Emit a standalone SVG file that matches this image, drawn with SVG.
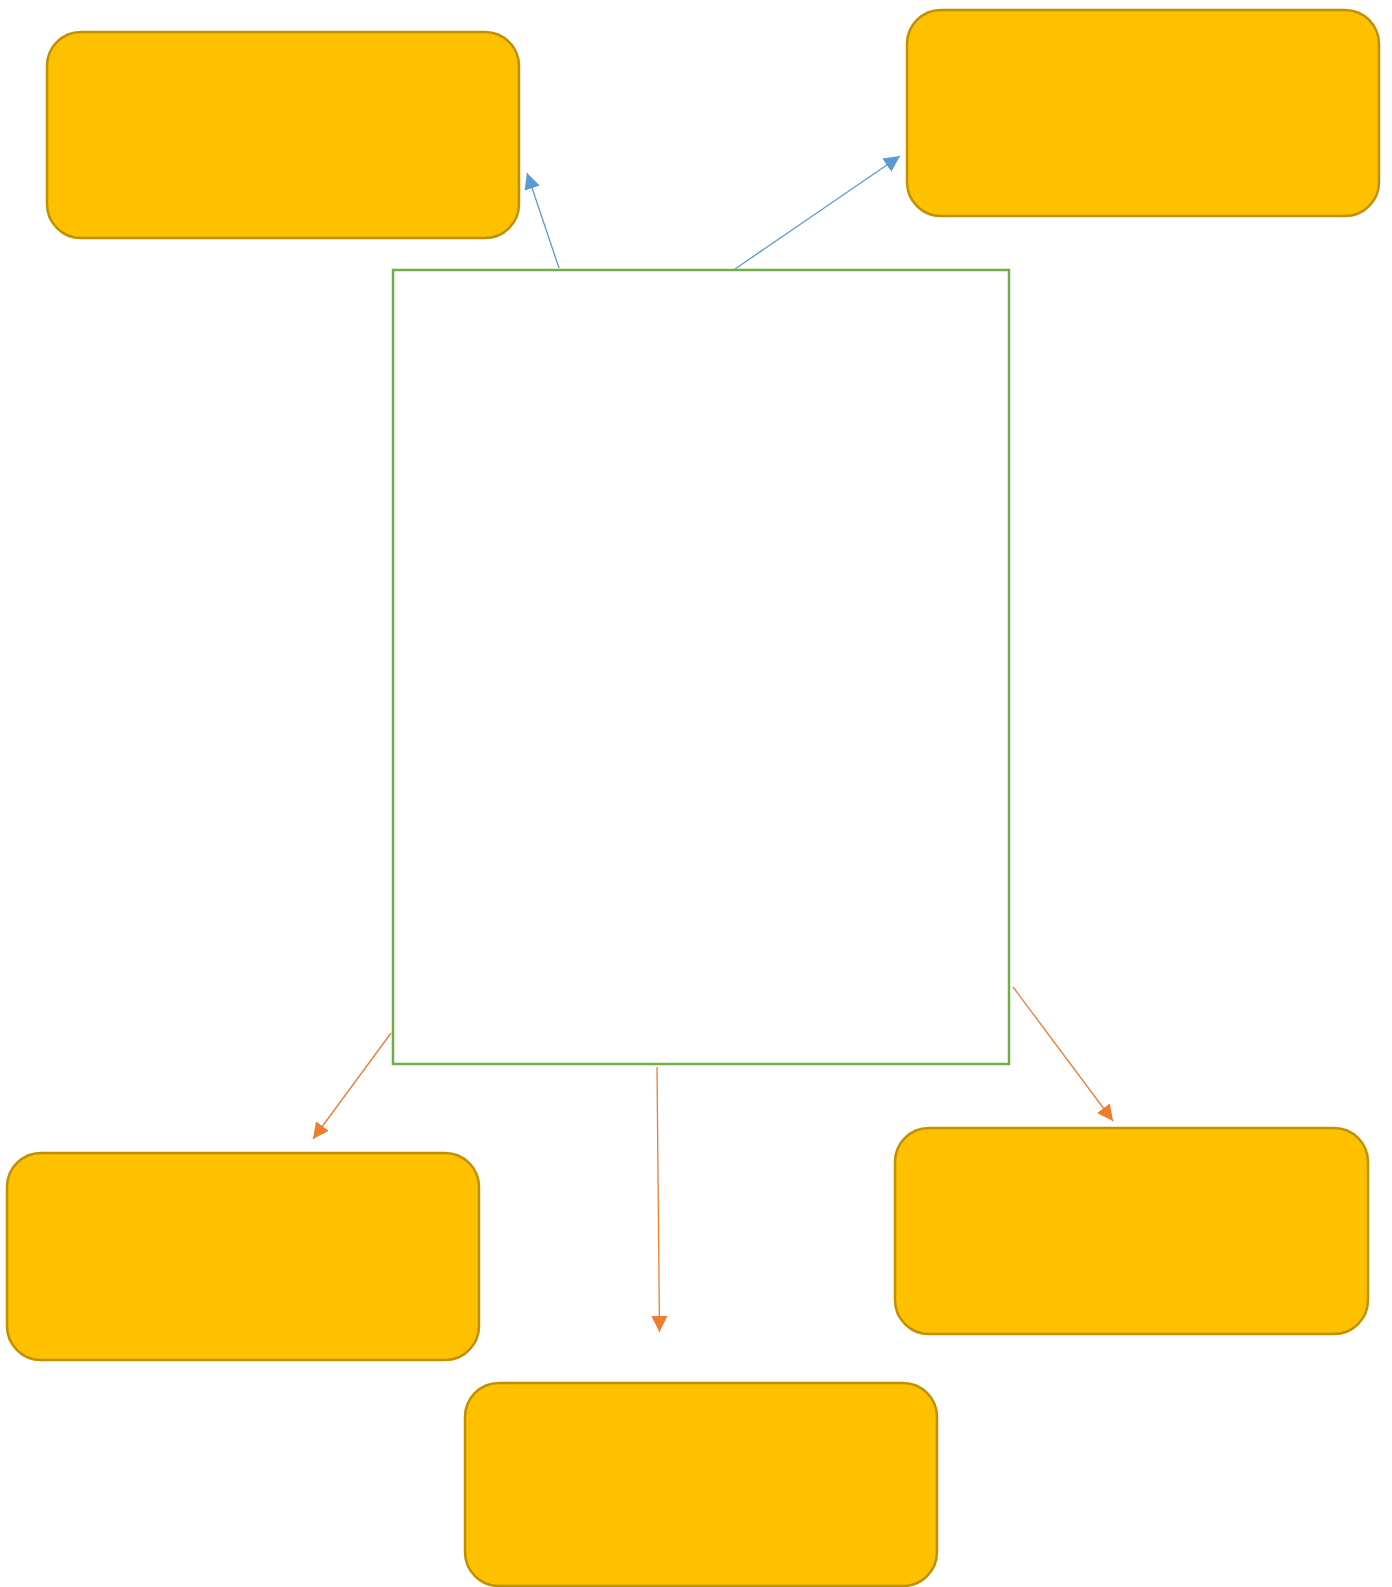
<svg xmlns="http://www.w3.org/2000/svg" width="1392" height="1587" viewBox="0 0 1392 1587">
<style>
.box{fill:#FFC000;stroke:#BF9000;stroke-width:2.5}
.main{fill:#FFFFFF;stroke:#70AD47;stroke-width:2.5}
.blue{stroke:#5B9BD5;stroke-width:1.3;fill:none}
.orange{stroke:#ED7D31;stroke-width:1.3;fill:none}
</style>
<defs>
<marker id="ab" viewBox="0 0 16 16" refX="16" refY="8" markerWidth="16" markerHeight="16" markerUnits="userSpaceOnUse" orient="auto"><path d="M0,0 L16,8 L0,16 z" fill="#5B9BD5"/></marker>
<marker id="ao" viewBox="0 0 16 16" refX="16" refY="8" markerWidth="16" markerHeight="16" markerUnits="userSpaceOnUse" orient="auto"><path d="M0,0 L16,8 L0,16 z" fill="#ED7D31"/></marker>
</defs>
<rect width="1392" height="1587" fill="#FFFFFF"/>
<g id="connectors">
<line class="blue" x1="559" y1="268" x2="527" y2="173" marker-end="url(#ab)"/>
<line class="blue" x1="735" y1="269" x2="900" y2="156" marker-end="url(#ab)"/>
<line class="orange" x1="391" y1="1033" x2="313" y2="1139" marker-end="url(#ao)"/>
<line class="orange" x1="657" y1="1067" x2="659.5" y2="1332" marker-end="url(#ao)"/>
<line class="orange" x1="1013" y1="987" x2="1113" y2="1121" marker-end="url(#ao)"/>
</g>
<g id="node-center"><rect class="main" x="393" y="270" width="616" height="794"/></g>
<g id="node-top-left"><rect class="box" x="47" y="32" width="472" height="206" rx="34"/></g>
<g id="node-top-right"><rect class="box" x="907" y="10" width="472" height="206" rx="34"/></g>
<g id="node-bottom-left"><rect class="box" x="7" y="1153" width="472" height="207" rx="34"/></g>
<g id="node-bottom-right"><rect class="box" x="895" y="1128" width="473" height="206" rx="34"/></g>
<g id="node-bottom"><rect class="box" x="465" y="1383" width="472" height="203" rx="34"/></g>
</svg>
